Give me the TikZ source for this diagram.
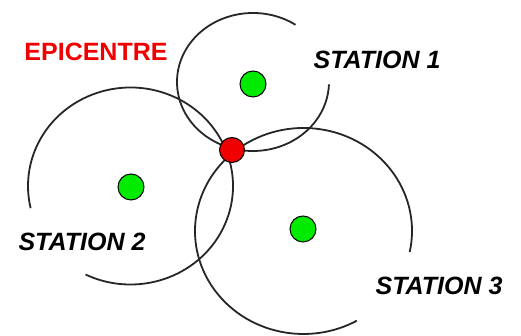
\documentclass[tikz,border=0pt]{standalone}
\usepackage{fontspec}
\setsansfont{Liberation Sans}
\usepackage{tikz}
\usetikzlibrary{calc}
\definecolor{stgreen}{RGB}{0,235,0}
\definecolor{epired}{RGB}{240,0,0}

\begin{document}
\begin{tikzpicture}[x=1pt,y=1pt,
ring/.style={draw=black!85,line width=1.8pt},
station/.style={circle,draw=black,line width=1pt,fill=stgreen,minimum size=26pt,inner sep=0pt},
epic/.style={circle,draw=black,line width=1pt,fill=epired,minimum size=25pt,inner sep=0pt},
tag/.style={font=\sffamily\bfseries\itshape\fontsize{25}{28}\selectfont},
epitag/.style={font=\sffamily\bfseries\fontsize{25}{28}\selectfont,text=epired}]
\useasboundingbox (0,0) rectangle (521,336);
% ranges around each station
\draw[ring] ($(253,254)+(56:76 and 69)$) arc[start angle=56,end angle=358,x radius=76,y radius=69];
\draw[ring] ($(130.5,150)+(244:102.5 and 98.5)$) arc[start angle=244,end angle=553,x radius=102.5,y radius=98.5];
\draw[ring] ($(303.5,105)+(-11.8:108.5 and 103)$) arc[start angle=-11.8,end angle=299.4,x radius=108.5,y radius=103];
\node[station] (st1) at (253,252) {};
\node[station] (st2) at (131,149) {};
\node[station] (st3) at (303,107) {};
\node[epic] (epi) at (232,186) {};
\node[epitag] (epilab) at (96,284) {EPICENTRE};
\node[tag] (lab1) at (377,276) {STATION 1};
\node[tag] (lab2) at (82,94) {STATION 2};
\node[tag] (lab3) at (439,50) {STATION 3};
\end{tikzpicture}
\end{document}
